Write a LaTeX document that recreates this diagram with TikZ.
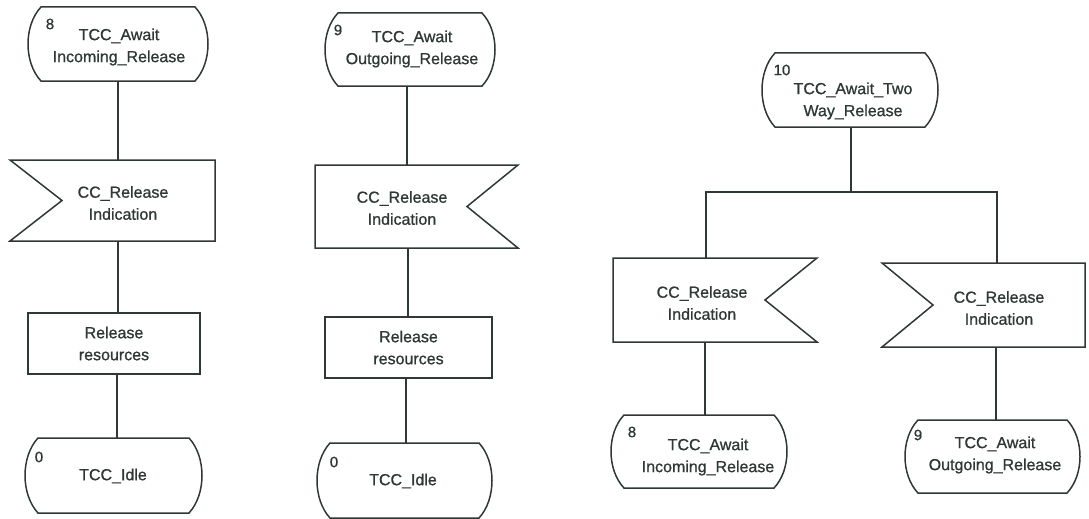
\documentclass[tikz,border=0pt]{standalone}
\usepackage{fontspec}
\setmainfont{Liberation Sans}
\newfontfamily\inkfont{Liberation Sans}[FakeBold=0.9]
\usetikzlibrary{calc}
\definecolor{ink}{HTML}{2F3835}
\tikzset{
  frame/.style={draw=none, inner sep=0pt, outer sep=0pt, rectangle},
  shapeline/.style={draw=ink, line width=1.5pt, line join=miter},
  taskbox/.style={draw=ink, line width=1.5pt, inner sep=0pt, outer sep=0pt, rectangle,
    text=ink, font=\inkfont\fontsize{16}{22}\selectfont, align=center},
  conn/.style={draw=ink, line width=1.5pt},
  txt/.style={text=ink, font=\inkfont\fontsize{16}{22}\selectfont, align=center, inner sep=0pt},
  num/.style={text=ink, font=\inkfont\fontsize{15}{18}\selectfont, inner sep=0pt},
}
\newcommand\MkFrame[5]{\node[frame, minimum width=#4pt, minimum height=#5pt] (#1) at (#2,#3) {};}
\newcommand\StateOutline[1]{%
  \draw[shapeline] ([xshift=13pt]#1.north west) -- ([xshift=-13pt]#1.north east)
   .. controls ($(#1.north east)!0.25!(#1.south east)+(4.33pt,0)$) and ($(#1.north east)!0.75!(#1.south east)+(4.33pt,0)$) .. ([xshift=-13pt]#1.south east)
   -- ([xshift=13pt]#1.south west)
   .. controls ($(#1.south west)!0.25!(#1.north west)+(-4.33pt,0)$) and ($(#1.south west)!0.75!(#1.north west)+(-4.33pt,0)$) .. cycle;}
\newcommand\SigLeft[2]{%
  \draw[shapeline] (#1.north west) -- (#1.north east) -- (#1.south east) -- (#1.south west) -- ([xshift=#2pt]#1.west) -- cycle;}
\newcommand\SigRight[2]{%
  \draw[shapeline] (#1.north west) -- (#1.north east) -- ([xshift=-#2pt]#1.east) -- (#1.south east) -- (#1.south west) -- cycle;}
\begin{document}
\begin{tikzpicture}[x=1pt,y=-1pt]
\useasboundingbox (0,0) rectangle (1089,519);
% ---------- column 1 ----------
\MkFrame{sa}{118}{44}{180}{74}
\StateOutline{sa}
\node[num] (na) at (50,24) {8};
\node[txt] (ta) at (119,47) {TCC\_Await\\Incoming\_Release};
\MkFrame{ga}{112.5}{200.5}{205}{81}
\SigLeft{ga}{52}
\node[txt] (tga) at (123,203) {CC\_Release\\Indication};
\node[taskbox, minimum width=172pt, minimum height=61pt] (ka) at (114,343.5) {Release\\resources};
\MkFrame{za}{113.5}{475.5}{177}{75}
\StateOutline{za}
\node[num] (nza) at (39,457) {0};
\node[txt] (tza) at (113,476) {TCC\_Idle};
\draw[conn] (sa.south) -- (sa.south |- ga.north);
\draw[conn] (sa.south |- ga.south) -- (sa.south |- ka.north);
\draw[conn] ([xshift=-1pt]sa.south |- ka.south) -- ([xshift=-1pt]sa.south |- za.north);
% ---------- column 2 ----------
\MkFrame{sb}{410}{49.5}{170}{73}
\StateOutline{sb}
\node[num] (nb) at (338,30) {9};
\node[txt] (tb) at (412,49) {TCC\_Await\\Outgoing\_Release};
\MkFrame{gb}{416.5}{206.5}{203}{83}
\SigRight{gb}{51}
\node[txt] (tgb) at (402,208) {CC\_Release\\Indication};
\node[taskbox, minimum width=167pt, minimum height=61pt] (kb) at (408.5,347.5) {Release\\resources};
\MkFrame{zb}{404.5}{480.5}{175}{75}
\StateOutline{zb}
\node[num] (nzb) at (334,462) {0};
\node[txt] (tzb) at (403,481) {TCC\_Idle};
\draw[conn] ([xshift=-3pt]sb.south) -- ([xshift=-3pt]sb.south |- gb.north);
\draw[conn] ([xshift=-2pt]sb.south |- gb.south) -- ([xshift=-2pt]sb.south |- kb.north);
\draw[conn] ([xshift=-4pt]sb.south |- kb.south) -- ([xshift=-4pt]sb.south |- zb.north);
% ---------- column 3 ----------
\MkFrame{sc}{850}{90}{176}{74}
\StateOutline{sc}
\node[num] (nc) at (782,70) {10};
\node[txt] (tc) at (853,101) {TCC\_Await\_Two\\Way\_Release};
\MkFrame{gc}{715}{300}{204}{84}
\SigRight{gc}{52}
\node[txt] (tgc) at (702,303) {CC\_Release\\Indication};
\MkFrame{gd}{983.5}{305}{203}{84}
\SigLeft{gd}{51}
\node[txt] (tgd) at (999,308) {CC\_Release\\Indication};
\MkFrame{ya}{699}{451.5}{176}{73}
\StateOutline{ya}
\node[num] (nya) at (632,432) {8};
\node[txt] (tya) at (708,457) {TCC\_Await\\Incoming\_Release};
\MkFrame{yb}{992.5}{456.5}{175}{73}
\StateOutline{yb}
\node[num] (nyb) at (918,435) {9};
\node[txt] (tyb) at (995,455) {TCC\_Await\\Outgoing\_Release};
\coordinate (j) at (851,192);
\draw[conn] ([xshift=1pt]sc.south) -- ([xshift=1pt]sc.south |- j);
\draw[conn] ([xshift=-9pt]gc.north) |- (j) -| ([xshift=13.5pt]gd.north);
\draw[conn] ([xshift=-10pt]gc.south) -- ([xshift=-10pt]gc.south |- ya.north);
\draw[conn] ([xshift=12.5pt]gd.south) -- ([xshift=12.5pt]gd.south |- yb.north);
\end{tikzpicture}
\end{document}
